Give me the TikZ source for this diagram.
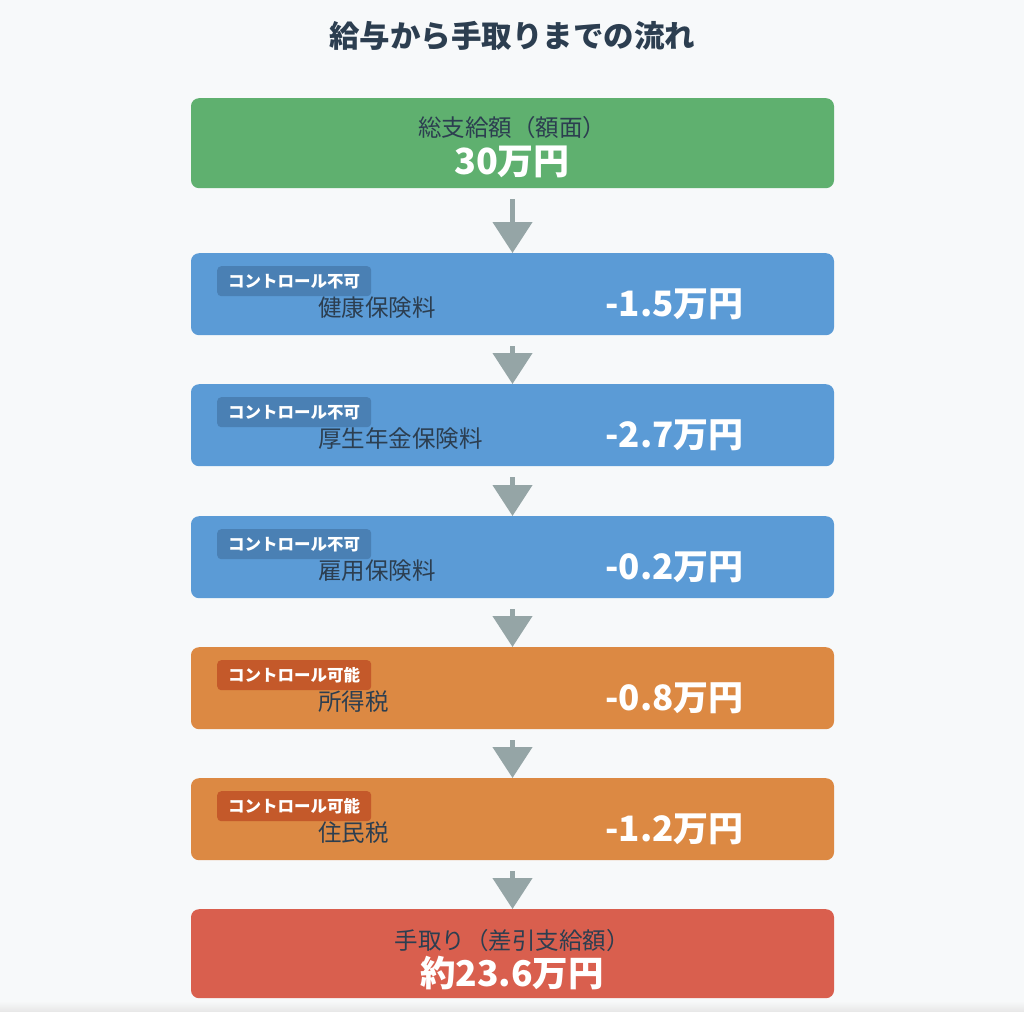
\documentclass[tikz,border=0pt]{standalone}
\usepackage{fontspec}
\setmainfont{Noto Sans CJK JP}
\usepackage{xcolor}
\usetikzlibrary{
    arrows.meta,
    positioning
}
\definecolor{pagebg}{HTML}{F7F9FA}
\definecolor{inktext}{HTML}{2C3E50}
\definecolor{grossgreen}{HTML}{5FB06F}
\definecolor{fixedblue}{HTML}{5B9BD6}
\definecolor{fixedbadge}{HTML}{4A80B4}
\definecolor{taxorange}{HTML}{DC8943}
\definecolor{taxbadge}{HTML}{C4592A}
\definecolor{netred}{HTML}{D95F4E}
\definecolor{arrowgray}{HTML}{95A5A6}

\begin{document}
\begin{tikzpicture}[x=1pt, y=-1pt,
    stage/.style={rectangle, rounded corners=8pt, minimum width=643pt, minimum height=82pt, anchor=north, inner sep=0pt},
    badge/.style={rectangle, rounded corners=4pt, anchor=north west, minimum width=154pt, minimum height=30pt, inner sep=0pt, text=white, font=\fontsize{16.5}{19}\selectfont\bfseries},
    item/.style={anchor=west, inner sep=0pt, text=inktext, font=\fontsize{23.5}{26}\selectfont},
    amount/.style={anchor=east, inner sep=0pt, text=white, font=\fontsize{35}{38}\selectfont\bfseries},
    flow/.style={draw=arrowgray, line width=4.5pt, -{Triangle[width=39pt, length=31pt]}, shorten <=11pt}]
                        \fill[pagebg] (0, 0) rectangle (1024, 1011);
                        \shade[top color=pagebg, bottom color=black!9] (0, 1001) rectangle (1024, 1011);
                        \useasboundingbox (0, 0) rectangle (1024, 1011);
                        \node[text=inktext, font=\fontsize{30.5}{34}\selectfont\bfseries] (title) at (512, 36) {給与から手取りまでの流れ};
                        \node[stage, fill=grossgreen, minimum height=90pt] (gross) at (512.5, 98) {};
                        \node[stage, fill=fixedblue] (health) at (512.5, 253) {};
                        \node[stage, fill=fixedblue] (pension) at (512.5, 384) {};
                        \node[stage, fill=fixedblue] (employ) at (512.5, 516) {};
                        \node[stage, fill=taxorange] (income) at (512.5, 647) {};
                        \node[stage, fill=taxorange] (resident) at (512.5, 778) {};
                        \node[stage, fill=netred, minimum height=89pt] (net) at (512.5, 909) {};
                        % gross and net
                        \node[text=inktext, font=\fontsize{23.5}{26}\selectfont] (grosslabel) at (512, 128) {総支給額（額面）};
                        \node[text=white, font=\fontsize{36}{40}\selectfont\bfseries] (grossvalue) at (512, 162) {30万円};
                        \node[text=inktext, font=\fontsize{23.5}{26}\selectfont] (netlabel) at (512, 941) {手取り（差引支給額）};
                        \node[text=white, font=\fontsize{35.5}{40}\selectfont\bfseries] (netvalue) at (512, 973) {約23.6万円};
                        % deductions
                        \node[badge, fill=fixedbadge] (healthbadge) at (217, 266) {コントロール不可};
                        \node[item] (healthlabel) at (318, 308) {健康保険料};
                        \node[amount] (healthvalue) at (744, 304) {-1.5万円};
                        \node[badge, fill=fixedbadge] (pensionbadge) at (217, 397) {コントロール不可};
                        \node[item] (pensionlabel) at (318, 439) {厚生年金保険料};
                        \node[amount] (pensionvalue) at (744, 435) {-2.7万円};
                        \node[badge, fill=fixedbadge] (employbadge) at (217, 529) {コントロール不可};
                        \node[item] (employlabel) at (318, 571) {雇用保険料};
                        \node[amount] (employvalue) at (744, 567) {-0.2万円};
                        \node[badge, fill=taxbadge] (incomebadge) at (217, 660) {コントロール可能};
                        \node[item] (incomelabel) at (318, 702) {所得税};
                        \node[amount] (incomevalue) at (744, 698) {-0.8万円};
                        \node[badge, fill=taxbadge] (residentbadge) at (217, 791) {コントロール可能};
                        \node[item] (residentlabel) at (318, 833) {住民税};
                        \node[amount] (residentvalue) at (744, 829) {-1.2万円};
                        \draw
                        (gross) edge[flow] (health)
                        (health) edge[flow] (pension)
                        (pension) edge[flow] (employ)
                        (employ) edge[flow] (income)
                        (income) edge[flow] (resident)
                        (resident) edge[flow] (net);
                    \end{tikzpicture}
\end{document}
